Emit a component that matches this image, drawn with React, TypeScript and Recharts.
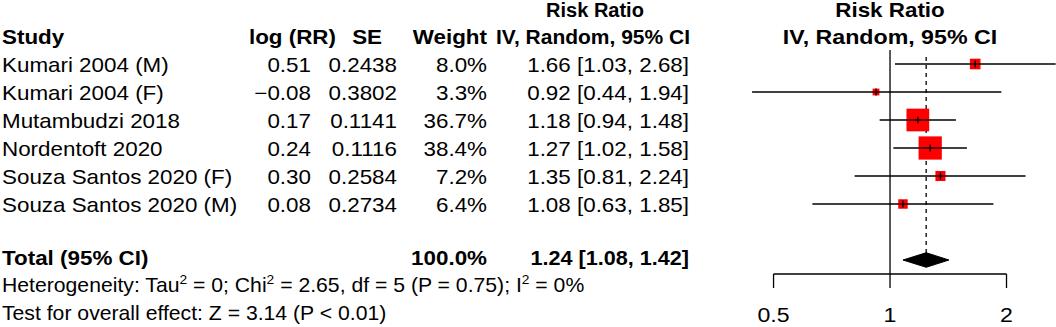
import React from 'react';
import { ComposedChart, Scatter, Area, XAxis, YAxis, ReferenceLine } from 'recharts';

// ---- data ----
const studies = [
  'Kumari 2004 (M)',
  'Kumari 2004 (F)',
  'Mutambudzi 2018',
  'Nordentoft 2020',
  'Souza Santos 2020 (F)',
  'Souza Santos 2020 (M)',
];
const logRR = ['0.51', '\u22120.08', '0.17', '0.24', '0.30', '0.08'];
const seVals = ['0.2438', '0.3802', '0.1141', '0.1116', '0.2584', '0.2734'];
const weights = [8.0, 3.3, 36.7, 38.4, 7.2, 6.4];
const rr = [1.66, 0.92, 1.18, 1.27, 1.35, 1.08];
const lower = [1.03, 0.44, 0.94, 1.02, 0.81, 0.63];
const upper = [2.68, 1.94, 1.48, 1.58, 2.24, 1.85];
const rows = [1, 2, 3, 4, 5, 6];

const totalRow = 8;
const totalRR = 1.24;
const totalLower = 1.08;
const totalUpper = 1.42;
const totalWeight = '100.0%';

const xTicks = [0.5, 1, 2];
const xTickLabels = ['0.5', '1', '2'];

const heterogeneity = { tau2: '0', chi2: '2.65', df: '5', p: '0.75', i2: '0%' };
const overall = { z: '3.14', p: '< 0.01' };

// ---- layout / style ----
const W = 1056;
const H = 327;
const FONT = '"Liberation Sans", Arial, Helvetica, sans-serif';
const SX = 1.12;
const DIAMOND_HALF = 0.26;
const BOX_K = 3.75;
const LW = 1.3;

const studyData = rows.map((r, i) => ({ x: rr[i], y: r, w: weights[i] }));
const diamondData = [
  { x: totalLower, yr: [totalRow, totalRow] },
  { x: totalRR, yr: [totalRow - DIAMOND_HALF, totalRow + DIAMOND_HALF] },
  { x: totalUpper, yr: [totalRow, totalRow] },
];

const fmt = (v: number) => v.toFixed(2);

function T(props: any) {
  const { x, y, anchor = 'start', bold = false, size = 20, sx = SX, children } = props;
  return (
    <text
      transform={`translate(${x},${y}) scale(${sx},1)`}
      textAnchor={anchor}
      fontFamily={FONT}
      fontSize={size}
      fontWeight={bold ? 'bold' : 'normal'}
      fill="#000"
    >
      {children}
    </text>
  );
}

const BoxShape = (props: any) => {
  const { cx, cy, payload } = props;
  const s = BOX_K * Math.sqrt(payload.w);
  return (
    <g>
      <rect x={cx - s / 2} y={cy - s / 2} width={s} height={s} fill="#ff0000" />
      <line x1={cx - s / 2} x2={cx + s / 2} y1={cy} y2={cy} stroke="#000" strokeWidth={LW} />
      <line x1={cx} x2={cx} y1={cy - 3.5} y2={cy + 3.5} stroke="#000" strokeWidth={LW} />
    </g>
  );
};

const TickLabel = (props: any) => {
  const { x, y, payload } = props;
  const idx = xTicks.indexOf(payload.value);
  return (
    <T x={x} y={y + 32} anchor="middle" size={21} sx={1.1}>
      {idx >= 0 ? xTickLabels[idx] : String(payload.value)}
    </T>
  );
};

const rowBase = (i: number) => 71.5 + 28 * i;

export default function App() {
  return (
    <div style={{ position: 'absolute', left: 0, top: 0, width: W, height: H, background: '#fff' }}>
      <ComposedChart
        width={W}
        height={H}
        margin={{ top: 50, right: 0, bottom: 0, left: 735 }}
        style={{ position: 'absolute', left: 0, top: 0 }}
      >
        <XAxis
          dataKey="x"
          type="number"
          scale="log"
          domain={[0.3975, 2.685]}
          allowDataOverflow
          ticks={xTicks}
          interval={0}
          tickSize={14}
          axisLine={false}
          tickLine={{ stroke: '#000', strokeWidth: LW }}
          height={53}
          tick={<TickLabel />}
        />
        <YAxis dataKey="y" type="number" domain={[0.5, 8.5]} reversed hide allowDataOverflow />
        <ReferenceLine x={1} stroke="#000" strokeWidth={LW} ifOverflow="visible" />
        <ReferenceLine
          segment={[{ x: xTicks[0], y: 8.5 }, { x: xTicks[xTicks.length - 1], y: 8.5 }]}
          stroke="#000"
          strokeWidth={LW}
          ifOverflow="visible"
        />
        <ReferenceLine
          segment={[{ x: totalRR, y: 0.75 }, { x: totalRR, y: totalRow }]}
          stroke="#000"
          strokeWidth={LW}
          strokeDasharray="4 4"
          ifOverflow="visible"
        />
        {rows.map((r, i) => (
          <ReferenceLine
            key={`ci${i}`}
            segment={[{ x: lower[i], y: r }, { x: upper[i], y: r }]}
            stroke="#000"
            strokeWidth={LW}
            ifOverflow="visible"
          />
        ))}
        <Area
          data={diamondData}
          dataKey="yr"
          type="linear"
          stroke="#000"
          strokeWidth={1}
          fill="#000"
          fillOpacity={1}
          dot={false}
          activeDot={false}
          isAnimationActive={false}
        />
        <Scatter data={studyData} shape={<BoxShape />} isAnimationActive={false} />
      </ComposedChart>
      <svg
        width={W}
        height={H}
        style={{ position: 'absolute', left: 0, top: 0, pointerEvents: 'none' }}
      >
        {/* headers */}
        <T x={595} y={17} anchor="middle" bold sx={1.0}>Risk Ratio</T>
        <T x={890} y={17} anchor="middle" bold>Risk Ratio</T>
        <T x={2} y={44} bold>Study</T>
        <T x={336} y={44} anchor="end" bold>log (RR)</T>
        <T x={382} y={44} anchor="end" bold>SE</T>
        <T x={487} y={44} anchor="end" bold>Weight</T>
        <T x={593} y={44} anchor="middle" bold sx={1.05}>IV, Random, 95% CI</T>
        <T x={890} y={44} anchor="middle" bold sx={1.16}>IV, Random, 95% CI</T>
        {/* rows */}
        {studies.map((s, i) => (
          <g key={s}>
            <T x={2} y={rowBase(i)}>{s}</T>
            <T x={311} y={rowBase(i)} anchor="end">{logRR[i]}</T>
            <T x={397} y={rowBase(i)} anchor="end">{seVals[i]}</T>
            <T x={487} y={rowBase(i)} anchor="end">{weights[i].toFixed(1)}%</T>
            <T x={689} y={rowBase(i)} anchor="end">
              {`${fmt(rr[i])} [${fmt(lower[i])}, ${fmt(upper[i])}]`}
            </T>
          </g>
        ))}
        {/* total */}
        <T x={2} y={265} bold>Total (95% CI)</T>
        <T x={487} y={265} anchor="end" bold>{totalWeight}</T>
        <T x={689} y={265} anchor="end" bold sx={1.08}>
          {`${fmt(totalRR)} [${fmt(totalLower)}, ${fmt(totalUpper)}]`}
        </T>
        <T x={2} y={292} sx={1.06}>
          {'Heterogeneity: Tau'}
          <tspan dy={-8} fontSize={13}>2</tspan>
          <tspan dy={8}>{` = ${heterogeneity.tau2}; Chi`}</tspan>
          <tspan dy={-8} fontSize={13}>2</tspan>
          <tspan dy={8}>{` = ${heterogeneity.chi2}, df = ${heterogeneity.df} (P = ${heterogeneity.p}); I`}</tspan>
          <tspan dy={-8} fontSize={13}>2</tspan>
          <tspan dy={8}>{` = ${heterogeneity.i2}`}</tspan>
        </T>
        <T x={2} y={320} sx={1.06}>{`Test for overall effect: Z = ${overall.z} (P ${overall.p})`}</T>
      </svg>
    </div>
  );
}
